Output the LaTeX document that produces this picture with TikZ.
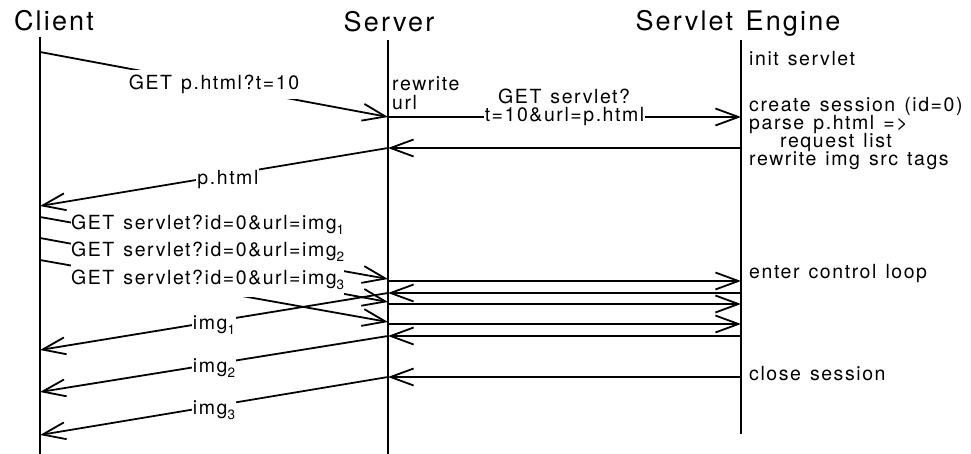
\documentclass[tikz,border=0pt]{standalone}
\usepackage{fontspec}
\setmainfont{TeX Gyre Heros}[LetterSpace=8,WordSpace=1.3]
\usetikzlibrary{arrows.meta}
\newcommand\subidx[1]{\raisebox{-5pt}{\fontsize{13.5}{13.5}\selectfont #1}}
\begin{document}
\begin{tikzpicture}[x=1pt,y=-1pt,
  life/.style={line width=2pt},
  msg/.style={line width=1.8pt},
  arr/.style={msg,-{Straight Barb[length=23pt,width=17pt]}},
  lbl/.style={font=\fontsize{19.5}{21}\selectfont, inner sep=0pt},
  onl/.style={lbl, fill=white, inner xsep=1pt, inner ysep=3pt},
  reqlbl/.style={lbl, fill=white, inner ysep=4.2pt, anchor=base west},
  side/.style={lbl, anchor=base west},
  ttl/.style={font=\fontsize{27}{29}\selectfont, inner sep=0pt, anchor=base},
]
\useasboundingbox (0,0) rectangle (971,454);
% titles
\node[ttl] (tC) at (54,31) {Client};
\node[ttl] (tS) at (389,32) {Server};
\node[ttl] (tE) at (738,31) {Servlet Engine};
% lifeline ends
\coordinate (ctop) at (40,37);  \coordinate (cbot) at (40,454);
\coordinate (stop) at (388,40); \coordinate (sbot) at (388,454);
\coordinate (etop) at (741,40); \coordinate (ebot) at (741,434);
\draw[life] (ctop) -- (cbot);
\draw[life] (stop) -- (sbot);
\draw[life] (etop) -- (ebot);
% message points
\foreach \yy in {52,206,217,238,260,350,392,435} \coordinate (c\yy) at (40,\yy);
\foreach \yy in {117,148,279,281,293,302,304,322,324,336,377} \coordinate (s\yy) at (388,\yy);
\foreach \yy in {117,148,281,293,304,324,336,377} \coordinate (e\yy) at (741,\yy);
% first request
\draw[arr] (c52) -- node[onl, inner ysep=5pt] (l1) {GET p.html?t=10} (s117);
\node[side] (rw1) at (392,91) {rewrite};
\node[side] (rw2) at (392,110) {url};
\draw[arr] (s117) -- node[onl] (l2) {t=10\&url=p.html} (e117);
\node[side] (l2a) at (498,104) {GET servlet?};
\draw[arr] (e148) -- (s148);
\draw[arr] (s148) -- node[onl, pos=0.46, yshift=-5pt] (l4) {p.html} (c206);
% image requests
\draw[arr] (c217) -- (s279);
\draw[arr] (c238) -- (s302);
\draw[arr] (c260) -- (s322);
\node[reqlbl] (q1) at (71,230) {GET servlet?id=0\&url=img\subidx{1}};
\node[reqlbl] (q2) at (71,257) {GET servlet?id=0\&url=img\subidx{2}};
\node[reqlbl] (q3) at (71,284) {GET servlet?id=0\&url=img\subidx{3}\rule[-8.5pt]{0pt}{1pt}};
% control loop
\draw[arr] (s281) -- (e281);
\draw[arr] (e293) -- (s293);
\draw[arr] (s304) -- (e304);
\draw[arr] (s324) -- (e324);
\draw[arr] (e336) -- (s336);
\draw[arr] (e377) -- (s377);
% responses
\draw[arr] (s293) -- node[onl, yshift=-4pt] (r1) {img\subidx{1}} (c350);
\draw[arr] (s336) -- node[onl, yshift=-4pt] (r2) {img\subidx{2}} (c392);
\draw[arr] (s377) -- node[onl, yshift=-4pt] (r3) {img\subidx{3}} (c435);
% engine notes
\node[side] (n1) at (749,66) {init servlet};
\node[side] (n2) at (749,112) {create session (id=0)};
\node[side] (n3) at (749,130) {parse p.html =>};
\node[side] (n4) at (780,148) {request list};
\node[side] (n5) at (749,166) {rewrite img src tags};
\node[side] (n6) at (749,278) {enter control loop};
\node[side] (n7) at (749,380) {close session};
\end{tikzpicture}
\end{document}
